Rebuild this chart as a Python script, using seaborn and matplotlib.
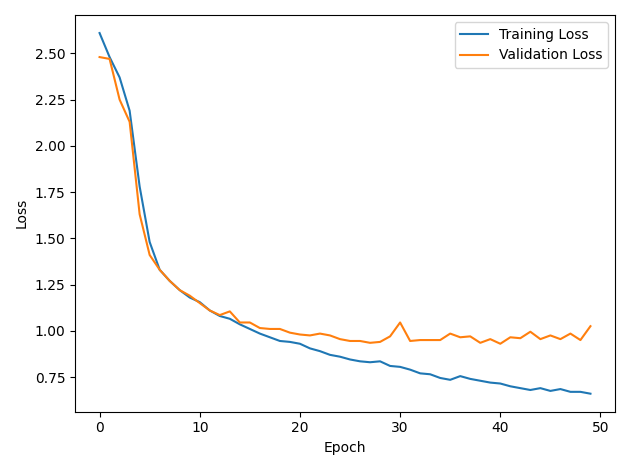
import matplotlib
matplotlib.use("Agg")
import matplotlib.pyplot as plt
import seaborn as sns
import numpy as np

train_loss = [2.61, 2.48, 2.37, 2.19, 1.78, 1.48, 1.33, 1.27, 1.22, 1.18, 1.155, 1.11, 1.08, 1.065, 1.035, 1.01, 0.985, 0.965, 0.945, 0.94, 0.93, 0.905, 0.89, 0.87, 0.86, 0.845, 0.835, 0.83, 0.835, 0.81, 0.805, 0.79, 0.77, 0.765, 0.745, 0.735, 0.755, 0.74, 0.73, 0.72, 0.715, 0.70, 0.69, 0.68, 0.69, 0.675, 0.685, 0.67, 0.67, 0.66]
val_loss = [2.48, 2.47, 2.25, 2.13, 1.63, 1.41, 1.33, 1.27, 1.22, 1.19, 1.15, 1.11, 1.085, 1.105, 1.045, 1.045, 1.015, 1.01, 1.01, 0.99, 0.98, 0.975, 0.985, 0.975, 0.955, 0.945, 0.945, 0.935, 0.94, 0.97, 1.045, 0.945, 0.95, 0.95, 0.95, 0.985, 0.965, 0.97, 0.935, 0.955, 0.93, 0.965, 0.96, 0.995, 0.955, 0.975, 0.955, 0.985, 0.95, 1.025]
epochs = np.arange(len(train_loss))

fig, ax = plt.subplots(figsize=(6.3, 4.7), dpi=100)
sns.lineplot(x=epochs, y=train_loss, ax=ax, label="Training Loss", color="#1f77b4")
sns.lineplot(x=epochs, y=val_loss, ax=ax, label="Validation Loss", color="#ff7f0e")
ax.set_xlabel("Epoch")
ax.set_ylabel("Loss")
ax.legend(loc="upper right")
fig.tight_layout()
fig.savefig("out.png")
